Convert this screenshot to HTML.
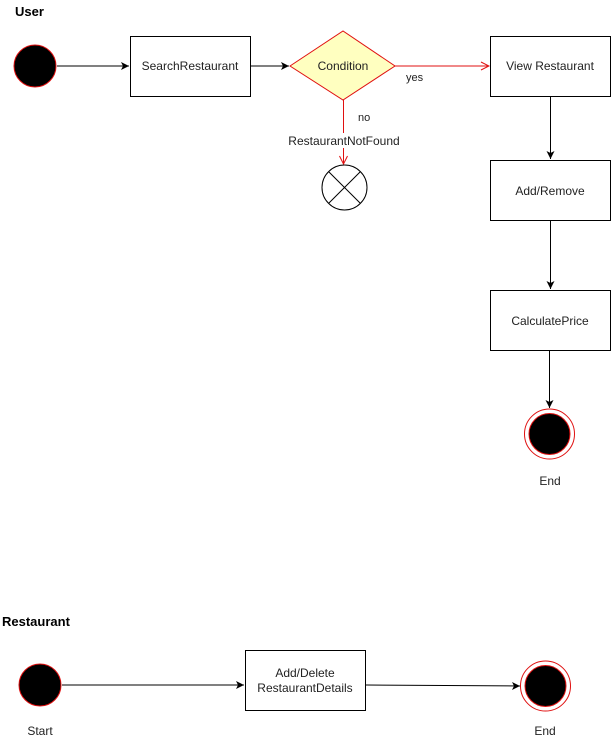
<!DOCTYPE html>
<html><head><meta charset="utf-8"><style>html,body{margin:0;padding:0;background:#fff}svg{display:block}text{font-family:"Liberation Sans",Arial,sans-serif;font-size:12px;fill:#222}</style></head><body>
<svg width="612" height="742" viewBox="0 0 612 742" xmlns="http://www.w3.org/2000/svg">
<defs>
<marker id="ab" markerWidth="10" markerHeight="10" refX="9" refY="5" orient="auto" markerUnits="userSpaceOnUse"><path d="M1,1 L9,5 L1,9 L3,5 Z" fill="#000"/></marker>
<marker id="ar" markerWidth="10" markerHeight="10" refX="9" refY="5" orient="auto" markerUnits="userSpaceOnUse"><path d="M1,1 L9,5 L1,9" fill="none" stroke="#e01010"/></marker>
</defs>
<text x="15" y="16" style="font-weight:bold;font-size:13px;fill:#000">User</text>
<circle cx="35" cy="66" r="21" fill="#000" stroke="#e01010"/>
<line x1="57" y1="66" x2="129" y2="66" stroke="#000" marker-end="url(#ab)"/>
<rect x="130.5" y="36.5" width="120" height="60" fill="#fff" stroke="#000"/>
<text x="190" y="70" text-anchor="middle">SearchRestaurant</text>
<line x1="251" y1="66" x2="289" y2="66" stroke="#000" marker-end="url(#ab)"/>
<polygon points="290,66 343,31 395,66 343,100" fill="#ffffc0" stroke="#e01010"/>
<text x="343" y="70" text-anchor="middle">Condition</text>
<line x1="395" y1="66" x2="489" y2="66" stroke="#e01010" marker-end="url(#ar)"/>
<text x="406" y="81" style="font-size:11px">yes</text>
<rect x="490.5" y="36.5" width="120" height="60" fill="#fff" stroke="#000"/>
<text x="550" y="70" text-anchor="middle">View Restaurant</text>
<line x1="343.5" y1="100" x2="343.5" y2="164" stroke="#e01010" marker-end="url(#ar)"/>
<text x="358" y="121" style="font-size:11px">no</text>
<rect x="288" y="133" width="112" height="15" fill="#fff"/>
<text x="344" y="145" text-anchor="middle">RestaurantNotFound</text>
<circle cx="344.5" cy="187.5" r="22.5" fill="#fff" stroke="#000"/>
<line x1="328.6" y1="171.6" x2="360.4" y2="203.4" stroke="#000"/>
<line x1="360.4" y1="171.6" x2="328.6" y2="203.4" stroke="#000"/>
<line x1="550.5" y1="97" x2="550.5" y2="159" stroke="#000" marker-end="url(#ab)"/>
<rect x="490.5" y="160.5" width="120" height="60" fill="#fff" stroke="#000"/>
<text x="550" y="195" text-anchor="middle">Add/Remove</text>
<line x1="550.5" y1="221" x2="550.5" y2="289" stroke="#000" marker-end="url(#ab)"/>
<rect x="490.5" y="290.5" width="120" height="60" fill="#fff" stroke="#000"/>
<text x="550" y="325" text-anchor="middle">CalculatePrice</text>
<line x1="549.5" y1="351" x2="549.5" y2="408" stroke="#000" marker-end="url(#ab)"/>
<circle cx="549.5" cy="434" r="25" fill="#fff" stroke="#e01010"/>
<circle cx="549.5" cy="434" r="20.5" fill="#000" stroke="#e01010"/>
<text x="550" y="485" text-anchor="middle">End</text>
<text x="2" y="626" style="font-weight:bold;font-size:13px;fill:#000">Restaurant</text>
<circle cx="40" cy="685" r="21" fill="#000" stroke="#e01010"/>
<line x1="62" y1="685" x2="244" y2="685" stroke="#000" marker-end="url(#ab)"/>
<rect x="245.5" y="650.5" width="120" height="60" fill="#fff" stroke="#000"/>
<text x="305" y="677" text-anchor="middle">Add/Delete</text>
<text x="305" y="692" text-anchor="middle">RestaurantDetails</text>
<line x1="366" y1="685" x2="520" y2="686" stroke="#000" marker-end="url(#ab)"/>
<circle cx="545.5" cy="686" r="25" fill="#fff" stroke="#e01010"/>
<circle cx="545.5" cy="686" r="20.5" fill="#000" stroke="#e01010"/>
<text x="40" y="735" text-anchor="middle">Start</text>
<text x="545" y="735" text-anchor="middle">End</text>
</svg>
</body></html>
